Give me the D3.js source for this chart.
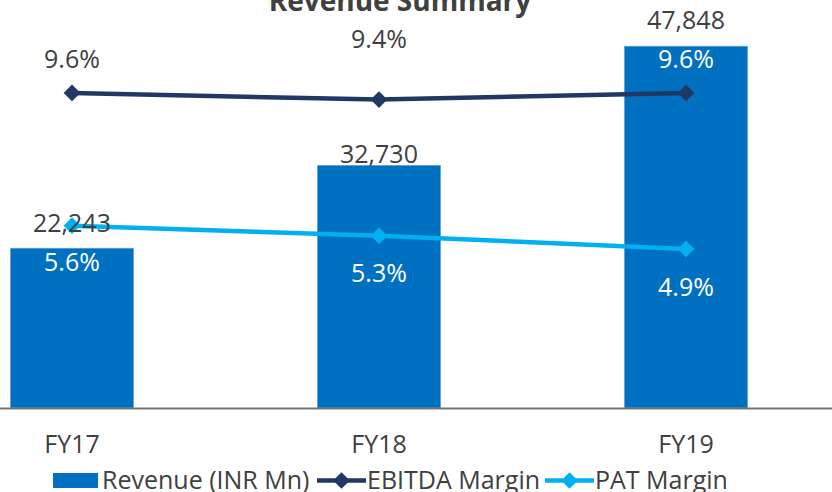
<!DOCTYPE html>
<html>
<head>
<meta charset="utf-8">
<script src="https://cdn.jsdelivr.net/npm/d3@7"></script>
<style>
  body { margin: 0; background: #ffffff; }
  svg { display: block; font-family: "Open Sans", "Noto Sans", sans-serif; }
</style>
</head>
<body>
<div id="chart"></div>
<script>
let years = ["FY17", "FY18", "FY19"]
let revenue = [22243, 32730, 47848]
let ebitda = [9.6, 9.4, 9.6]
let pat = [5.6, 5.3, 4.9]
let seriesNames = ["Revenue (INR Mn)", "EBITDA Margin", "PAT Margin"]

// label nudges (labels were hand-placed)
let revLabelDy = [-16, -3, -17]
let ebitdaLabelDy = [-25, -52, -25]
let patLabelDy = [45, 46, 47]

let width = 832, height = 492
let bar_color = "#0070C0", ebitda_color = "#1F3864", pat_color = "#00B0F0"
let text_color = "#404040"

let svg = d3.select("#chart").append("svg")
    .attr("width", width)
    .attr("height", height)
    .attr("viewBox", `0 0 ${width} ${height}`)

let x = d3.scaleBand()
    .domain(years)
    .range([-81.5, 839.5])
    .paddingInner(0.6)
    .paddingOuter(0.3)

let y = d3.scaleLinear().domain([2000, 50000]).range([408, 29.3])
let y2 = d3.scaleLinear().domain([0, 12]).range([411.6, 13.3])

// title (cut off at the top, as in the original)
svg.append("text")
    .attr("x", 400).attr("y", 11)
    .attr("text-anchor", "middle")
    .attr("font-size", 28).attr("font-weight", "bold")
    .attr("fill", text_color)
    .text("Revenue Summary")

svg.selectAll("rect.bar")
    .data(revenue)
    .enter()
    .append("rect")
        .attr("class", "bar")
        .attr("x", (d, i) => x(years[i]))
        .attr("y", d => y(d))
        .attr("width", x.bandwidth())
        .attr("height", d => y.range()[0] - y(d))
        .attr("fill", bar_color)
        .attr("stroke", "#5B9BD5")
        .attr("stroke-width", 0.8)

// baseline
svg.append("line")
    .attr("x1", 0).attr("x2", width)
    .attr("y1", 408.5).attr("y2", 408.5)
    .attr("stroke", "#767676").attr("stroke-width", 2)

let xAxis = svg.append("g")
    .attr("transform", "translate(0,408)")
    .call(d3.axisBottom(x).tickSize(0).tickPadding(27))
xAxis.select(".domain").remove()
xAxis.selectAll("text")
    .attr("font-size", 25)
    .attr("font-family", "Open Sans, sans-serif")
    .attr("fill", text_color)

let cx = (d, i) => x(years[i]) + x.bandwidth() / 2

let diamond = d3.symbol().type(d3.symbolSquare).size(140)
let drawSeries = function(vals, color) {
    let line = d3.line().x(cx).y(d => y2(d))
    svg.append("path")
        .datum(vals)
        .attr("d", line)
        .attr("fill", "none")
        .attr("stroke", color)
        .attr("stroke-width", 4.5)
    svg.selectAll(null)
        .data(vals)
        .enter()
        .append("path")
            .attr("d", diamond)
            .attr("transform", (d, i) => `translate(${cx(d, i)},${y2(d)}) rotate(45)`)
            .attr("fill", color)
}

drawSeries(ebitda, ebitda_color)
drawSeries(pat, pat_color)

// data labels
svg.selectAll("text.rev")
    .data(revenue)
    .enter()
    .append("text")
        .attr("class", "rev")
        .attr("x", cx)
        .attr("y", (d, i) => y(d) + revLabelDy[i])
        .attr("text-anchor", "middle")
        .attr("font-size", 25)
        .attr("fill", text_color)
        .text(d => d3.format(",")(d))

svg.selectAll("text.ebitda")
    .data(ebitda)
    .enter()
    .append("text")
        .attr("class", "ebitda")
        .attr("x", cx)
        .attr("y", (d, i) => y2(d) + ebitdaLabelDy[i])
        .attr("text-anchor", "middle")
        .attr("font-size", 25)
        .attr("fill", (d, i) => i == 2 ? "#ffffff" : text_color)
        .text(d => d.toFixed(1) + "%")

svg.selectAll("text.pat")
    .data(pat)
    .enter()
    .append("text")
        .attr("class", "pat")
        .attr("x", cx)
        .attr("y", (d, i) => y2(d) + patLabelDy[i])
        .attr("text-anchor", "middle")
        .attr("font-size", 25)
        .attr("fill", "#ffffff")
        .text(d => d.toFixed(1) + "%")

// legend
let legend = svg.append("g").attr("font-size", 25).attr("fill", text_color)
legend.append("rect")
    .attr("x", 53).attr("y", 473).attr("width", 45).attr("height", 15)
    .attr("fill", bar_color)
legend.append("text").attr("x", 102).attr("y", 489).text(seriesNames[0])

let legendLine = function(x0, color, label) {
    legend.append("line")
        .attr("x1", x0).attr("x2", x0 + 49)
        .attr("y1", 480.5).attr("y2", 480.5)
        .attr("stroke", color).attr("stroke-width", 4.5)
    legend.append("path")
        .attr("d", diamond)
        .attr("transform", `translate(${x0 + 24.5},480.5) rotate(45)`)
        .attr("fill", color)
    legend.append("text").attr("x", x0 + 50).attr("y", 489).text(label)
}
legendLine(317, ebitda_color, seriesNames[1])
legendLine(545, pat_color, seriesNames[2])
</script>
</body>
</html>
